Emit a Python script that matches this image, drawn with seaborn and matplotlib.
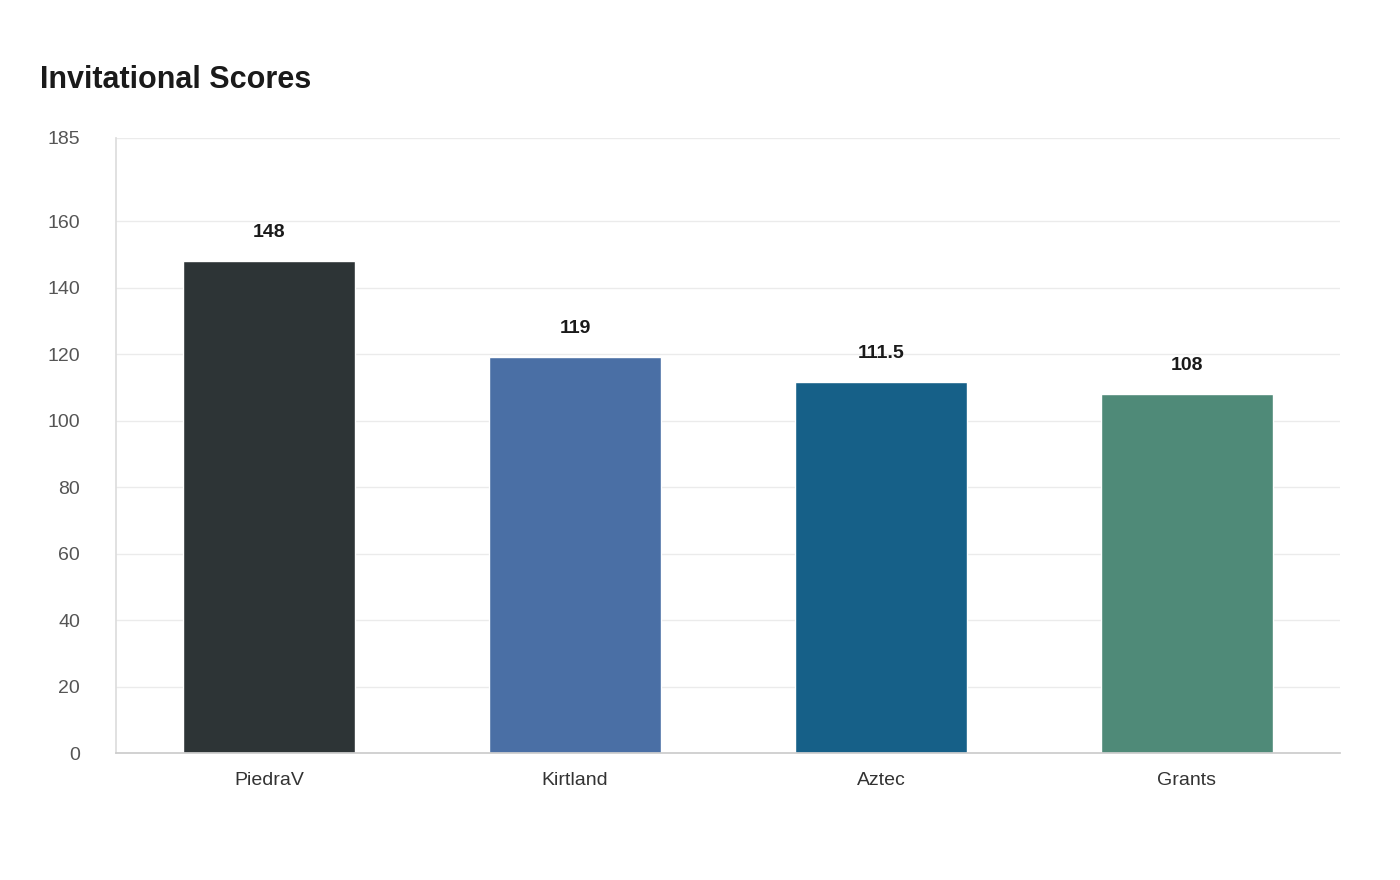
import matplotlib
matplotlib.use("Agg")
import matplotlib.pyplot as plt
import seaborn as sns
import pandas as pd

teams = ["PiedraV", "Kirtland", "Aztec", "Grants"]
scores = [148, 119, 111.5, 108]
labels = ["148", "119", "111.5", "108"]
colors = ["#2d3436", "#4a6fa5", "#166088", "#4f8a78"]
yticks = [0, 20, 40, 60, 80, 100, 120, 140, 160, 185]

sns.set_theme(style="white")
plt.rcParams['font.family'] = ['Liberation Sans', 'DejaVu Sans']

fig = plt.figure(figsize=(14, 8.8), dpi=100)
ax = fig.add_axes([116/1400, 1-753/880, (1340-116)/1400, (753-138)/880])
df = pd.DataFrame({"team": teams, "score": scores})
sns.barplot(data=df, x="team", y="score", hue="team", palette=colors, width=0.56,
            legend=False, ax=ax, saturation=1)
ax.set_ylim(0, 185)
ax.set_xlim(-0.5, 3.5)
ax.set_yticks(yticks)
ax.set_yticklabels([str(t) for t in yticks], color="#555555", fontsize=14)
ax.tick_params(axis="x", labelsize=14, colors="#333333", pad=14, length=0)
ax.tick_params(axis="y", length=0, pad=26)
ax.grid(axis="y", color="#ebebeb", linewidth=1)
ax.set_axisbelow(True)
ax.set_xlabel("")
ax.set_ylabel("")
for s in ["top", "right"]:
    ax.spines[s].set_visible(False)
ax.spines["left"].set_color("#dddddd")
ax.spines["bottom"].set_color("#cccccc")
for i, (v, l) in enumerate(zip(scores, labels)):
    ax.text(i, v + 6, l, ha="center", va="bottom", fontsize=14, fontweight="bold", color="#1a1a1a")
fig.text(40/1400, 1-80/880, "Invitational Scores", fontsize=22, fontweight="bold",
         color="#1a1a1a", va="center", ha="left")
fig.savefig("out.png", dpi=100)
